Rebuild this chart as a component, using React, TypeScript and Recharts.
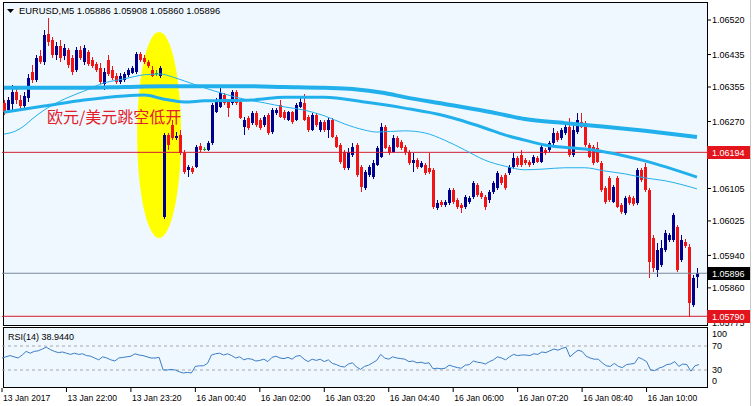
import React from "react";
import { ComposedChart, LineChart, Line, Bar, XAxis, YAxis, ReferenceLine, ReferenceDot } from "recharts";

// ---------------- data ----------------
const titleText = "EURUSD,M5  1.05886 1.05908 1.05860 1.05896";
const rsiTitle = "RSI(14) 38.9440";
const annotationText = "欧元/美元跳空低开";

const opens = [
  1.06316, 1.06298, 1.06313, 1.06343, 1.06323, 1.06308, 1.06328, 1.06392, 1.06372, 1.06431,
  1.06417, 1.06486, 1.06471, 1.06434, 1.06456, 1.06431, 1.06446, 1.06426, 1.06397, 1.06446,
  1.06417, 1.06441, 1.06422, 1.06412, 1.06402, 1.06362, 1.06422, 1.06397, 1.06382, 1.06367,
  1.06372, 1.06385, 1.06390, 1.06392, 1.06436, 1.06426, 1.06417, 1.06397, 1.06390, 1.06382,
  1.06035, 1.06237, 1.06261, 1.06229, 1.06237, 1.06192, 1.06151, 1.06156, 1.06158, 1.06210,
  1.06202, 1.06200, 1.06217, 1.06293, 1.06306, 1.06335, 1.06318, 1.06316, 1.06343, 1.06318,
  1.06257, 1.06279, 1.06266, 1.06291, 1.06274, 1.06261, 1.06286, 1.06244, 1.06291, 1.06311,
  1.06293, 1.06274, 1.06293, 1.06274, 1.06306, 1.06316, 1.06281, 1.06249, 1.06286, 1.06249,
  1.06269, 1.06249, 1.06274, 1.06232, 1.06212, 1.06195, 1.06156, 1.06188, 1.06212, 1.06158,
  1.06106, 1.06138, 1.06133, 1.06163, 1.06183, 1.06257, 1.06207, 1.06195, 1.06229, 1.06220,
  1.06207, 1.06195, 1.06168, 1.06175, 1.06158, 1.06163, 1.06156, 1.06151, 1.06057, 1.06072,
  1.06064, 1.06069, 1.06101, 1.06077, 1.06064, 1.06059, 1.06072, 1.06084, 1.06114, 1.06094,
  1.06084, 1.06077, 1.06096, 1.06106, 1.06133, 1.06138, 1.06143, 1.06158, 1.06180, 1.06188,
  1.06175, 1.06170, 1.06168, 1.06180, 1.06170, 1.06200, 1.06200, 1.06217, 1.06242, 1.06229,
  1.06242, 1.06257, 1.06188, 1.06244, 1.06269, 1.06266, 1.06212, 1.06207, 1.06205, 1.06168,
  1.06106, 1.06131, 1.06072, 1.06131, 1.06064, 1.06045, 1.06084, 1.06082, 1.06069, 1.06151,
  1.06158, 1.06101, 1.05983, 1.05904, 1.05917, 1.05954, 1.05978, 1.05978, 1.06010, 1.05929,
  1.05973, 1.05961, 1.05818, 1.05886,
];
const highs = [
  1.06323, 1.06330, 1.06360, 1.06353, 1.06335, 1.06343, 1.06387, 1.06409, 1.06434, 1.06446,
  1.06495, 1.06525, 1.06478, 1.06466, 1.06471, 1.06461, 1.06451, 1.06434, 1.06454, 1.06456,
  1.06458, 1.06446, 1.06429, 1.06417, 1.06414, 1.06402, 1.06434, 1.06407, 1.06390, 1.06390,
  1.06392, 1.06402, 1.06407, 1.06441, 1.06441, 1.06434, 1.06422, 1.06407, 1.06397, 1.06407,
  1.06242, 1.06242, 1.06274, 1.06244, 1.06249, 1.06200, 1.06163, 1.06160, 1.06212, 1.06217,
  1.06207, 1.06222, 1.06316, 1.06328, 1.06353, 1.06340, 1.06323, 1.06348, 1.06348, 1.06323,
  1.06281, 1.06284, 1.06296, 1.06296, 1.06279, 1.06286, 1.06291, 1.06303, 1.06303, 1.06323,
  1.06298, 1.06296, 1.06296, 1.06316, 1.06330, 1.06338, 1.06286, 1.06291, 1.06291, 1.06274,
  1.06274, 1.06279, 1.06279, 1.06237, 1.06217, 1.06200, 1.06205, 1.06217, 1.06217, 1.06163,
  1.06151, 1.06163, 1.06175, 1.06210, 1.06266, 1.06261, 1.06212, 1.06237, 1.06234, 1.06224,
  1.06212, 1.06200, 1.06192, 1.06180, 1.06173, 1.06168, 1.06192, 1.06156, 1.06077, 1.06077,
  1.06077, 1.06106, 1.06106, 1.06082, 1.06069, 1.06089, 1.06087, 1.06124, 1.06119, 1.06099,
  1.06089, 1.06101, 1.06124, 1.06148, 1.06138, 1.06143, 1.06163, 1.06192, 1.06185, 1.06200,
  1.06180, 1.06175, 1.06188, 1.06185, 1.06212, 1.06205, 1.06222, 1.06254, 1.06247, 1.06254,
  1.06261, 1.06279, 1.06261, 1.06291, 1.06291, 1.06271, 1.06217, 1.06212, 1.06220, 1.06173,
  1.06111, 1.06136, 1.06114, 1.06136, 1.06069, 1.06087, 1.06089, 1.06087, 1.06156, 1.06156,
  1.06168, 1.06106, 1.05990, 1.05971, 1.05978, 1.06003, 1.05995, 1.06045, 1.06015, 1.05990,
  1.05981, 1.05968, 1.05892, 1.05908,
];
const lows = [
  1.06286, 1.06293, 1.06293, 1.06313, 1.06298, 1.06303, 1.06318, 1.06365, 1.06367, 1.06412,
  1.06409, 1.06456, 1.06426, 1.06422, 1.06417, 1.06422, 1.06402, 1.06385, 1.06392, 1.06422,
  1.06409, 1.06407, 1.06402, 1.06392, 1.06362, 1.06348, 1.06382, 1.06372, 1.06362, 1.06362,
  1.06367, 1.06380, 1.06387, 1.06387, 1.06417, 1.06412, 1.06402, 1.06380, 1.06382, 1.06377,
  1.06030, 1.06200, 1.06224, 1.06224, 1.06188, 1.06141, 1.06133, 1.06141, 1.06156, 1.06195,
  1.06197, 1.06197, 1.06212, 1.06291, 1.06303, 1.06311, 1.06281, 1.06311, 1.06311, 1.06276,
  1.06237, 1.06249, 1.06261, 1.06257, 1.06249, 1.06257, 1.06237, 1.06239, 1.06286, 1.06279,
  1.06274, 1.06271, 1.06264, 1.06271, 1.06303, 1.06271, 1.06244, 1.06247, 1.06257, 1.06244,
  1.06244, 1.06229, 1.06229, 1.06205, 1.06165, 1.06151, 1.06151, 1.06183, 1.06133, 1.06096,
  1.06101, 1.06133, 1.06128, 1.06160, 1.06180, 1.06202, 1.06188, 1.06192, 1.06205, 1.06200,
  1.06188, 1.06163, 1.06146, 1.06153, 1.06156, 1.06138, 1.06141, 1.06055, 1.06052, 1.06059,
  1.06059, 1.06064, 1.06067, 1.06055, 1.06045, 1.06055, 1.06067, 1.06079, 1.06084, 1.06079,
  1.06052, 1.06069, 1.06091, 1.06101, 1.06114, 1.06101, 1.06138, 1.06153, 1.06158, 1.06158,
  1.06163, 1.06158, 1.06163, 1.06168, 1.06168, 1.06188, 1.06195, 1.06212, 1.06220, 1.06224,
  1.06237, 1.06183, 1.06183, 1.06239, 1.06254, 1.06207, 1.06180, 1.06163, 1.06168, 1.06096,
  1.06067, 1.06072, 1.06069, 1.06057, 1.06042, 1.06040, 1.06064, 1.06062, 1.06064, 1.06121,
  1.06096, 1.05885, 1.05899, 1.05887, 1.05912, 1.05949, 1.05973, 1.05973, 1.05899, 1.05924,
  1.05958, 1.05789, 1.05813, 1.05860,
];
const closes = [
  1.06293, 1.06323, 1.06343, 1.06323, 1.06308, 1.06333, 1.06377, 1.06372, 1.06426, 1.06417,
  1.06483, 1.06466, 1.06434, 1.06456, 1.06426, 1.06451, 1.06409, 1.06392, 1.06446, 1.06426,
  1.06451, 1.06412, 1.06407, 1.06397, 1.06367, 1.06392, 1.06387, 1.06377, 1.06367, 1.06382,
  1.06387, 1.06397, 1.06402, 1.06436, 1.06422, 1.06417, 1.06407, 1.06382, 1.06390, 1.06402,
  1.06237, 1.06212, 1.06229, 1.06234, 1.06192, 1.06146, 1.06158, 1.06146, 1.06207, 1.06200,
  1.06202, 1.06217, 1.06311, 1.06323, 1.06340, 1.06316, 1.06303, 1.06343, 1.06316, 1.06279,
  1.06274, 1.06254, 1.06291, 1.06261, 1.06254, 1.06281, 1.06242, 1.06298, 1.06298, 1.06281,
  1.06279, 1.06293, 1.06269, 1.06311, 1.06318, 1.06274, 1.06249, 1.06286, 1.06261, 1.06269,
  1.06249, 1.06274, 1.06232, 1.06207, 1.06170, 1.06156, 1.06195, 1.06207, 1.06138, 1.06109,
  1.06146, 1.06158, 1.06168, 1.06205, 1.06257, 1.06205, 1.06192, 1.06229, 1.06207, 1.06205,
  1.06195, 1.06168, 1.06175, 1.06158, 1.06168, 1.06143, 1.06146, 1.06059, 1.06069, 1.06064,
  1.06072, 1.06101, 1.06072, 1.06059, 1.06057, 1.06084, 1.06082, 1.06119, 1.06089, 1.06084,
  1.06059, 1.06096, 1.06119, 1.06143, 1.06119, 1.06106, 1.06158, 1.06180, 1.06163, 1.06163,
  1.06168, 1.06163, 1.06183, 1.06170, 1.06207, 1.06192, 1.06217, 1.06242, 1.06224, 1.06249,
  1.06257, 1.06188, 1.06249, 1.06274, 1.06257, 1.06212, 1.06183, 1.06168, 1.06170, 1.06101,
  1.06072, 1.06077, 1.06109, 1.06059, 1.06047, 1.06082, 1.06069, 1.06067, 1.06151, 1.06126,
  1.06101, 1.05924, 1.05909, 1.05954, 1.05958, 1.05995, 1.05990, 1.06040, 1.05904, 1.05978,
  1.05963, 1.05823, 1.05885, 1.05896,
];

const rsi14 = [
  50, 52, 54, 52, 50, 55, 61, 58, 61, 62,
  65, 68, 64, 61, 59, 60, 58, 56, 58, 56,
  57, 54, 53, 50, 47, 52, 50, 47, 45, 50,
  51, 52, 53, 57, 55, 54, 52, 50, 50, 51,
  30, 30, 31, 30, 27, 25, 26, 25, 36, 37,
  37, 41, 55, 57, 58, 55, 57, 54, 50, 52,
  47, 49, 48, 45, 46, 48, 44, 51, 53, 50,
  49, 51, 48, 53, 54, 48, 44, 48, 46, 48,
  44, 47, 41, 39, 36, 35, 40, 42, 35, 31,
  36, 38, 42, 46, 56, 50, 48, 52, 50, 49,
  48, 44, 45, 42, 43, 41, 42, 32, 33, 32,
  33, 38, 36, 34, 33, 38, 39, 45, 43, 42,
  40, 44, 47, 52, 50, 47, 52, 56, 54, 55,
  55, 54, 57, 56, 60, 59, 62, 65, 63, 66,
  68, 52, 58, 63, 61, 53, 50, 48, 48, 42,
  37, 36, 41, 36, 34, 39, 40, 41, 51, 48,
  44, 30, 29, 33, 35, 39, 40, 44, 36, 40,
  39, 28, 37, 38.944,
];

// moving averages, read at selected bars: [bar index, value]
const maSlow: [number, number][] = [
  [0, 1.06353], [10, 1.06353], [20, 1.06353], [30, 1.06355], [40, 1.06357], [50, 1.06357],
  [60, 1.06357], [70, 1.06355], [80, 1.06353], [87, 1.0635], [95, 1.0634], [100, 1.0633],
  [110, 1.06313], [120, 1.06296], [125, 1.06286], [130, 1.06276], [140, 1.06266], [150, 1.06257],
  [160, 1.06247], [173, 1.06232],
];
const maMid: [number, number][] = [
  [0, 1.06293], [10, 1.06308], [20, 1.06323], [30, 1.06333], [35, 1.06335], [40, 1.06325],
  [45, 1.06318], [50, 1.06321], [62, 1.06323], [70, 1.0633], [80, 1.0633], [90, 1.06318],
  [100, 1.06303], [110, 1.06284], [120, 1.06254], [125, 1.06237], [130, 1.06224], [135, 1.06212],
  [145, 1.06202], [150, 1.06195], [160, 1.06173], [173, 1.06133],
];
const maFast: [number, number][] = [
  [0, 1.06239], [3, 1.06247], [5, 1.06259], [7, 1.06276], [10, 1.06298], [15, 1.06325],
  [20, 1.06345], [25, 1.06365], [30, 1.06375], [35, 1.06385], [39, 1.06387], [42, 1.0638],
  [45, 1.0637], [50, 1.06353], [55, 1.06338], [60, 1.06325], [65, 1.06316], [70, 1.06306],
  [75, 1.06298], [80, 1.06284], [85, 1.06264], [90, 1.06249], [93, 1.06244], [100, 1.06247],
  [105, 1.06242], [110, 1.06224], [115, 1.062], [120, 1.06175], [125, 1.0616], [130, 1.06151],
  [135, 1.06153], [140, 1.06156], [145, 1.06156], [150, 1.06148], [155, 1.06141], [160, 1.06131],
  [165, 1.06124], [173, 1.06104],
];

const timeTickBars = [0, 16, 32, 48, 64, 80, 96, 112, 128, 144, 160];
const timeTickLabels = [
  "13 Jan 2017", "13 Jan 22:00", "13 Jan 23:20", "16 Jan 00:40", "16 Jan 02:00", "16 Jan 03:20",
  "16 Jan 04:40", "16 Jan 06:00", "16 Jan 07:20", "16 Jan 08:40", "16 Jan 10:00",
];
const priceTicks = [1.0652, 1.06435, 1.06355, 1.0627, 1.06194, 1.06105, 1.06025, 1.0594, 1.05896, 1.0586, 1.05775, 1.0579];
const priceDomain: [number, number] = [1.05771, 1.06562];
const levelLine = 1.06194;
const bidLine = 1.05896;
const lowLine = 1.0579;
const rsiTicks = [100, 70, 30, 0];
const rsiLevels = [70, 30];
const gapBar = 39;
const gapPrice = 1.06237;
const noteBar = 11;
const notePrice = 1.06269;

// ---------------- styles ----------------
const FONT = "'Liberation Sans', Arial, sans-serif";
const PLOT_BG = "#F0F8FF";
const BULL = "#00008C";
const BEAR = "#F01414";
const DOJI = "#10B010";
const MA_COLOR = "#22B0EC";
const CRIMSON = "#D21E32";
const W = 753;
const SLOTS = 176;
const MARGIN = { top: 3, right: 0, bottom: 2, left: 2 };

const slowMap = new Map(maSlow);
const midMap = new Map(maMid);
const fastMap = new Map(maFast);

const data = Array.from({ length: SLOTS }, (_, i) => {
  if (i >= opens.length) return { i };
  return {
    i,
    open: opens[i],
    high: highs[i],
    low: lows[i],
    close: closes[i],
    range: [lows[i], highs[i]],
    maSlow: slowMap.has(i) ? slowMap.get(i) : null,
    maMid: midMap.has(i) ? midMap.get(i) : null,
    maFast: fastMap.has(i) ? fastMap.get(i) : null,
    rsi: rsi14[i],
  };
});

const Candle = (props: any) => {
  const { x, y, width, height, payload } = props;
  if (!payload || payload.open == null) return null;
  const { open, close, high, low } = payload;
  const cx = Math.round(x + width / 2);
  const k = high > low ? height / (high - low) : 0;
  const yOf = (v: number) => y + (high - v) * k;
  const color = close > open ? BULL : close < open ? BEAR : DOJI;
  const top = Math.round(yOf(Math.max(open, close)));
  const bot = Math.round(yOf(Math.min(open, close)));
  const wTop = Math.round(y);
  const wBot = Math.round(y + height);
  return (
    <g shapeRendering="crispEdges">
      <rect x={cx} y={wTop} width={1} height={Math.max(1, wBot - wTop)} fill={color} />
      <rect x={cx - 1} y={top} width={3} height={Math.max(1, bot - top)} fill={color} />
    </g>
  );
};

const tagFor = (v: number) => {
  if (Math.abs(v - levelLine) < 1e-7) return "#E3141C";
  if (Math.abs(v - lowLine) < 1e-7) return "#E3141C";
  if (Math.abs(v - bidLine) < 1e-7) return "#000000";
  return null;
};

const PriceTick = (props: any) => {
  const { x, y, payload } = props;
  const v = payload.value as number;
  const tag = tagFor(v);
  const label = v.toFixed(5);
  if (tag) {
    return (
      <g>
        <rect x={x - 5} y={y - 6.5} width={43} height={13} fill={tag} shapeRendering="crispEdges" />
        <text x={x} y={y + 3.3} fontSize={9} fontFamily={FONT} fill="#FFFFFF">{label}</text>
      </g>
    );
  }
  return (
    <text x={x} y={y + 3.3} fontSize={9} fontFamily={FONT} fill="#000000">{label}</text>
  );
};

const TimeTick = (props: any) => {
  const { x, y, payload } = props;
  const idx = timeTickBars.indexOf(payload.value);
  return (
    <text x={x + 1} y={y + 8} fontSize={8.6} fontFamily={FONT} fill="#000000" textAnchor="start">
      {idx >= 0 ? timeTickLabels[idx] : ""}
    </text>
  );
};

const RsiTick = (props: any) => {
  const { x, y, payload } = props;
  const v = payload.value as number;
  const shift = v === 100 ? 6 : v === 0 ? -7 : 0;
  return (
    <text x={x} y={y + shift + 3.3} fontSize={9} fontFamily={FONT} fill="#000000">{v}</text>
  );
};

export default function App() {
  return (
    <div style={{ position: "absolute", left: 0, top: 0, width: W, height: 406, background: "#FFFFFF", overflow: "hidden" }}>
      <div style={{ position: "absolute", left: 3, top: 2, width: 705, height: 324, background: PLOT_BG, border: "1px solid #000", boxSizing: "border-box" }} />
      <div style={{ position: "absolute", left: 3, top: 327, width: 705, height: 61, background: PLOT_BG, border: "1px solid #000", boxSizing: "border-box" }} />
      <div style={{ position: "absolute", left: 750, top: 0, width: 1, height: 406, background: "#C8C8C8" }} />

      {/* background layer: highlight ellipse */}
      <div style={{ position: "absolute", left: 0, top: 0 }}>
        <ComposedChart width={W} height={326} data={data} margin={MARGIN}>
          <XAxis dataKey="i" hide />
          <YAxis orientation="right" width={46} domain={priceDomain} allowDataOverflow tick={false} tickLine={false} axisLine={false} />
          <Line dataKey="close" stroke="none" dot={false} isAnimationActive={false} />
          <ReferenceDot
            x={gapBar}
            y={gapPrice}
            r={0}
            shape={(p: any) => <ellipse cx={p.cx} cy={p.cy} rx={22} ry={103} fill="#FFFF00" />}
          />
        </ComposedChart>
      </div>

      {/* main price chart */}
      <div style={{ position: "absolute", left: 0, top: 0 }}>
        <ComposedChart width={W} height={326} data={data} margin={MARGIN} barCategoryGap={0} barGap={0}>
          <XAxis dataKey="i" hide />
          <YAxis
            orientation="right"
            width={46}
            domain={priceDomain}
            allowDataOverflow
            ticks={priceTicks}
            interval={0}
            tickSize={4}
            tickMargin={1}
            tickLine={{ stroke: "#000" }}
            axisLine={false}
            tick={(p: any) => <PriceTick {...p} />}
          />
          <ReferenceLine y={levelLine} stroke={CRIMSON} strokeWidth={1} />
          <ReferenceLine y={bidLine} stroke="#7A8898" strokeWidth={1} />
          <ReferenceLine y={lowLine} stroke={CRIMSON} strokeWidth={1} />
          <Bar dataKey="range" isAnimationActive={false} shape={(p: any) => <Candle {...p} />} />
          <Line dataKey="maSlow" type="monotone" stroke={MA_COLOR} strokeWidth={4} dot={false} connectNulls isAnimationActive={false} />
          <Line dataKey="maMid" type="monotone" stroke={MA_COLOR} strokeWidth={3} dot={false} connectNulls isAnimationActive={false} />
          <Line dataKey="maFast" type="monotone" stroke={MA_COLOR} strokeWidth={1} dot={false} connectNulls isAnimationActive={false} />
          <ReferenceDot
            x={noteBar}
            y={notePrice}
            r={0}
            shape={(p: any) => (
              <text x={p.cx - 1} y={p.cy + 1} fontSize={16} fontFamily="'Noto Sans CJK SC', sans-serif" fill="#E2202C">
                {annotationText}
              </text>
            )}
          />
        </ComposedChart>
      </div>

      {/* RSI sub-window */}
      <div style={{ position: "absolute", left: 0, top: 327 }}>
        <LineChart width={W} height={79} data={data} margin={{ top: 1, right: 0, bottom: 0, left: 2 }}>
          <XAxis
            dataKey="i"
            ticks={timeTickBars}
            interval={0}
            height={18}
            tickSize={4}
            tickMargin={1}
            axisLine={false}
            tickLine={{ stroke: "#000" }}
            tick={(p: any) => <TimeTick {...p} />}
          />
          <YAxis
            orientation="right"
            width={46}
            domain={[0, 100]}
            ticks={rsiTicks}
            interval={0}
            tickSize={0}
            tickMargin={5}
            tickLine={false}
            axisLine={false}
            tick={(p: any) => <RsiTick {...p} />}
          />
          {rsiLevels.map((lv) => (
            <ReferenceLine key={lv} y={lv} stroke="#A8A8A8" strokeDasharray="3 3" />
          ))}
          <Line dataKey="rsi" type="linear" stroke="#3A7DC6" strokeWidth={1} dot={false} isAnimationActive={false} />
        </LineChart>
      </div>

      {/* window captions */}
      <svg width={W} height={406} style={{ position: "absolute", left: 0, top: 0, pointerEvents: "none" }}>
        <polygon points="7,9 14,9 10.5,13" fill="#000" />
        <text x={19} y={14} fontSize={9.4} fontFamily={FONT} fill="#000">{titleText}</text>
        <text x={8} y={340} fontSize={9} fontFamily={FONT} fill="#000">{rsiTitle}</text>
      </svg>
    </div>
  );
}
